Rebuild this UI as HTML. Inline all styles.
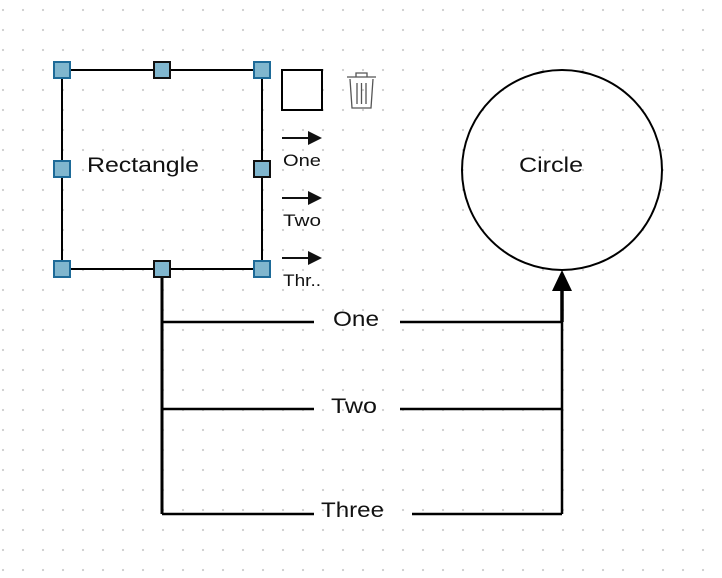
<!DOCTYPE html>
<html><head><style>
html,body{margin:0;padding:0;}
body{width:722px;height:578px;overflow:hidden;background-color:#fff;
background-image:radial-gradient(circle,#cfcfcf 1px,transparent 1.3px);
background-size:20px 20px;background-position:-7px 0px;
font-family:"Liberation Sans",sans-serif;}
</style></head><body>
<svg width="722" height="578" style="position:absolute;left:0;top:0" font-family="Liberation Sans, sans-serif">
<rect x="62" y="70" width="200" height="199" fill="none" stroke="#000" stroke-width="2"/>
<text x="87" y="172" font-size="21" textLength="112" lengthAdjust="spacingAndGlyphs" fill="#111">Rectangle</text>
<circle cx="562" cy="170" r="100" fill="none" stroke="#000" stroke-width="2"/>
<text x="519" y="172" font-size="21" textLength="64" lengthAdjust="spacingAndGlyphs" fill="#111">Circle</text>
<g stroke="#000" stroke-width="2.5" fill="none">
<line x1="162" y1="269" x2="162" y2="514" stroke-width="3"/>
<line x1="162" y1="322" x2="314" y2="322"/><line x1="400" y1="322" x2="562" y2="322"/>
<line x1="162" y1="409" x2="314" y2="409"/><line x1="400" y1="409" x2="562" y2="409"/>
<line x1="162" y1="514" x2="314" y2="514"/><line x1="412" y1="514" x2="562" y2="514"/>
<line x1="562" y1="514" x2="562" y2="290"/>
<line x1="562" y1="322" x2="562" y2="290" stroke-width="3.5"/>
</g>
<polygon points="562,270 552,291 572,291" fill="#000"/>
<g font-size="21" fill="#111">
<text x="333" y="326" textLength="46" lengthAdjust="spacingAndGlyphs">One</text>
<text x="331" y="413" textLength="46" lengthAdjust="spacingAndGlyphs">Two</text>
<text x="321" y="517" textLength="63" lengthAdjust="spacingAndGlyphs">Three</text>
</g>
<g fill="#80b6ce" stroke="#1d6a98" stroke-width="2">
<rect x="54" y="62" width="16" height="16"/><rect x="254" y="62" width="16" height="16"/>
<rect x="54" y="161" width="16" height="16"/>
<rect x="54" y="261" width="16" height="16"/><rect x="254" y="261" width="16" height="16"/>
</g>
<g fill="#80b6ce" stroke="#111" stroke-width="2">
<rect x="154" y="62" width="16" height="16"/>
<rect x="254" y="161" width="16" height="16"/>
<rect x="154" y="261" width="16" height="16"/>
</g>
<rect x="282" y="70" width="40" height="40" fill="#fff" stroke="#000" stroke-width="2"/>
<g stroke="#555" stroke-width="1.3" fill="none">
<path d="M347 77 h29 M356 77 v-4 h11 v4"/>
<path d="M350 79 l2 29 h19 l2 -29"/>
<path d="M357 83 v21 M361.5 83 v21 M366 83 v21"/>
</g>
<g fill="#111">
<line x1="282" y1="138" x2="310" y2="138" stroke="#111" stroke-width="2"/><polygon points="308,131 322,138 308,145"/>
<line x1="282" y1="198" x2="310" y2="198" stroke="#111" stroke-width="2"/><polygon points="308,191 322,198 308,205"/>
<line x1="282" y1="258" x2="310" y2="258" stroke="#111" stroke-width="2"/><polygon points="308,251 322,258 308,265"/>
</g>
<g font-size="17" fill="#111">
<text x="283" y="166" textLength="38" lengthAdjust="spacingAndGlyphs">One</text>
<text x="283" y="226" textLength="38" lengthAdjust="spacingAndGlyphs">Two</text>
<text x="283" y="286" textLength="38" lengthAdjust="spacingAndGlyphs">Thr..</text>
</g>
</svg>
</body></html>
